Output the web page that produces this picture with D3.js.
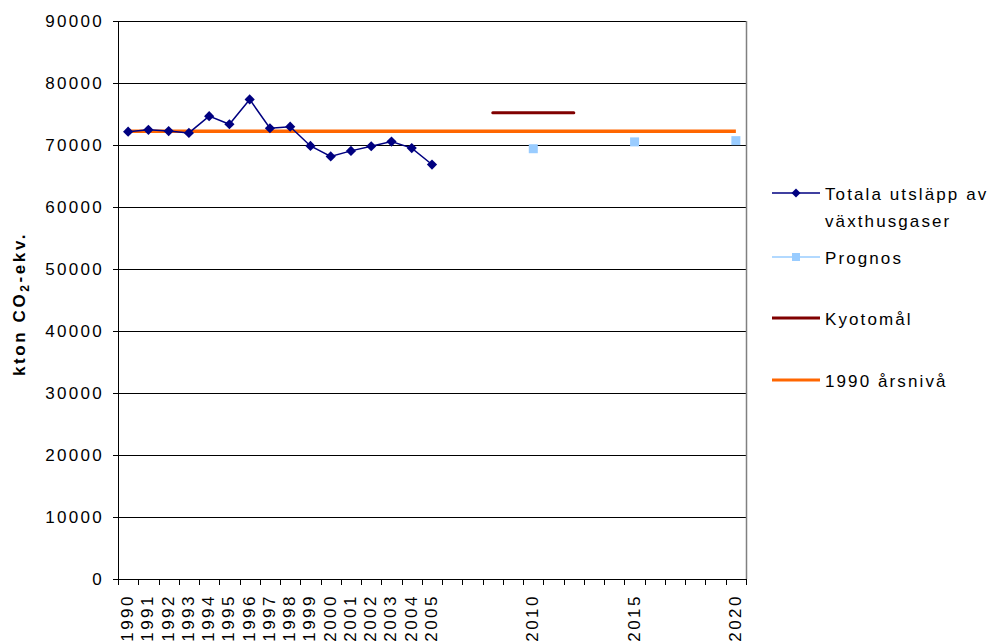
<!DOCTYPE html>
<html lang="sv">
<head>
<meta charset="utf-8">
<title>Utsläpp av växthusgaser</title>
<script src="https://d3js.org/d3.v7.min.js"></script>
<style>
  body { margin: 0; background: #fff; }
  svg text { font-family: "Liberation Sans", Arial, sans-serif; fill: #000; }
</style>
</head>
<body>
<div id="chart"></div>
<script>
// years on the category axis
const years = d3.range(1990, 2021).map(String)
const labelYears = ["1990","1991","1992","1993","1994","1995","1996","1997","1998","1999","2000","2001","2002","2003","2004","2005","2010","2015","2020"]

// Totala utsläpp av växthusgaser
const histYears = ["1990","1991","1992","1993","1994","1995","1996","1997","1998","1999","2000","2001","2002","2003","2004","2005"]
const histValues = [72150, 72450, 72250, 71950, 74650, 73350, 77350, 72700, 72950, 69850, 68150, 69050, 69800, 70550, 69500, 66850]

// Prognos
const progYears = ["2010", "2015", "2020"]
const progValues = [69400, 70500, 70700]

// Kyotomål
const kyotoYears = ["2008", "2012"]
const kyotoValue = 75200

// 1990 årsnivå
const levelYears = ["1990", "2020"]
const levelValue = 72200

const yTicks = d3.range(0, 90001, 10000)

const W = 990, H = 641
const margin = {top: 21, left: 118, right: 244, bottom: 62}
const width = W - margin.left - margin.right
const height = H - margin.top - margin.bottom

const svg = d3.select("#chart").append("svg")
  .attr("width", W).attr("height", H)

const g = svg.append("g").attr("transform", `translate(${margin.left},${margin.top})`)

const x = d3.scaleBand().domain(years).range([0, width])
const cx = d => x(d) + x.bandwidth() / 2
const y = d3.scaleLinear().domain([0, 90000]).range([height, 0])

// grid
g.append("g").selectAll("line").data(yTicks.filter(d => d > 0)).join("line")
  .attr("x1", 0).attr("x2", width)
  .attr("y1", d => y(d) + 0.5).attr("y2", d => y(d) + 0.5)
  .attr("stroke", "#000").attr("stroke-width", 1)

// right border
g.append("line")
  .attr("x1", width + 0.5).attr("x2", width + 0.5)
  .attr("y1", 0).attr("y2", height)
  .attr("stroke", "#808080").attr("stroke-width", 1.5)

// y axis
const yAxis = g.append("g")
  .call(d3.axisLeft(y).tickValues(yTicks).tickSize(5).tickPadding(9).tickFormat(d3.format("d")))
yAxis.select(".domain").attr("stroke", "#000")
yAxis.selectAll("text").attr("font-size", 17).attr("letter-spacing", 2.3)

// x axis, ticks on category boundaries
const xAxis = g.append("g").attr("transform", `translate(0,${height})`)
xAxis.append("line").attr("x1", 0).attr("x2", width).attr("y1", 0.5).attr("y2", 0.5).attr("stroke", "#000")
xAxis.selectAll(".tk").data(years.concat(["end"])).join("line")
  .attr("x1", (d, i) => Math.round(i * x.step()) + 0.5)
  .attr("x2", (d, i) => Math.round(i * x.step()) + 0.5)
  .attr("y1", 0).attr("y2", 6).attr("stroke", "#000")
xAxis.selectAll(".lb").data(labelYears).join("text")
  .attr("transform", d => `translate(${cx(d) + 5},${15}) rotate(-90)`)
  .attr("text-anchor", "end")
  .attr("font-size", 17)
  .attr("letter-spacing", 2.5)
  .text(d => d)

// y title
svg.append("text")
  .attr("transform", `translate(25,${margin.top + height / 2 + 4}) rotate(-90)`)
  .attr("text-anchor", "middle")
  .attr("font-size", 17).attr("font-weight", "bold")
  .attr("letter-spacing", 2.6)
  .call(t => {
    t.append("tspan").text("kton CO")
    t.append("tspan").attr("font-size", 12).attr("dy", 4).text("2")
    t.append("tspan").attr("dy", -4).text("-ekv.")
  })

// 1990 årsnivå
g.append("line")
  .attr("x1", cx(levelYears[0])).attr("x2", cx(levelYears[1]))
  .attr("y1", y(levelValue)).attr("y2", y(levelValue))
  .attr("stroke", "#FF6600").attr("stroke-width", 3.5)

// Kyotomål
g.append("line")
  .attr("x1", cx(kyotoYears[0])).attr("x2", cx(kyotoYears[1]))
  .attr("y1", y(kyotoValue)).attr("y2", y(kyotoValue))
  .attr("stroke", "#800000").attr("stroke-width", 3).attr("stroke-linecap", "round")

// Totala
const hist = histYears.map((d, i) => ({year: d, v: histValues[i]}))
g.append("path").datum(hist)
  .attr("d", d3.line().x(d => cx(d.year)).y(d => y(d.v)))
  .attr("fill", "none").attr("stroke", "#000080").attr("stroke-width", 1.5)
g.selectAll(".dia").data(hist).join("path")
  .attr("transform", d => `translate(${cx(d.year)},${y(d.v)}) rotate(45)`)
  .attr("d", d3.symbol().type(d3.symbolSquare).size(52))
  .attr("fill", "#000080")

// Prognos
g.selectAll(".sq").data(progYears.map((d, i) => ({year: d, v: progValues[i]}))).join("rect")
  .attr("x", d => cx(d.year) - 4.5).attr("y", d => y(d.v) - 4.5)
  .attr("width", 9).attr("height", 9)
  .attr("fill", "#99CCFF")

// legend
const legend = svg.append("g").attr("transform", "translate(772,0)")
const items = [
  {lines: ["Totala utsläpp av", "växthusgaser"], y: 193, color: "#000080", w: 1.5, marker: "diamond"},
  {lines: ["Prognos"], y: 257, color: "#99CCFF", w: 1.5, marker: "square"},
  {lines: ["Kyotomål"], y: 318, color: "#800000", w: 3},
  {lines: ["1990 årsnivå"], y: 380, color: "#FF6600", w: 3}
]
items.forEach(it => {
  const row = legend.append("g").attr("transform", `translate(0,${it.y})`)
  row.append("line").attr("x1", 0).attr("x2", 48).attr("y1", 0).attr("y2", 0)
    .attr("stroke", it.color).attr("stroke-width", it.w)
  if (it.marker === "diamond") {
    row.append("path").attr("transform", "translate(24,0) rotate(45)")
      .attr("d", d3.symbol().type(d3.symbolSquare).size(40)).attr("fill", it.color)
  } else if (it.marker === "square") {
    row.append("rect").attr("x", 20).attr("y", -4).attr("width", 8).attr("height", 8).attr("fill", it.color)
  }
  it.lines.forEach((l, i) => {
    row.append("text").attr("x", 53).attr("y", 7 + i * 27)
      .attr("font-size", 17).attr("letter-spacing", 2.1).text(l)
  })
})
</script>
</body>
</html>
